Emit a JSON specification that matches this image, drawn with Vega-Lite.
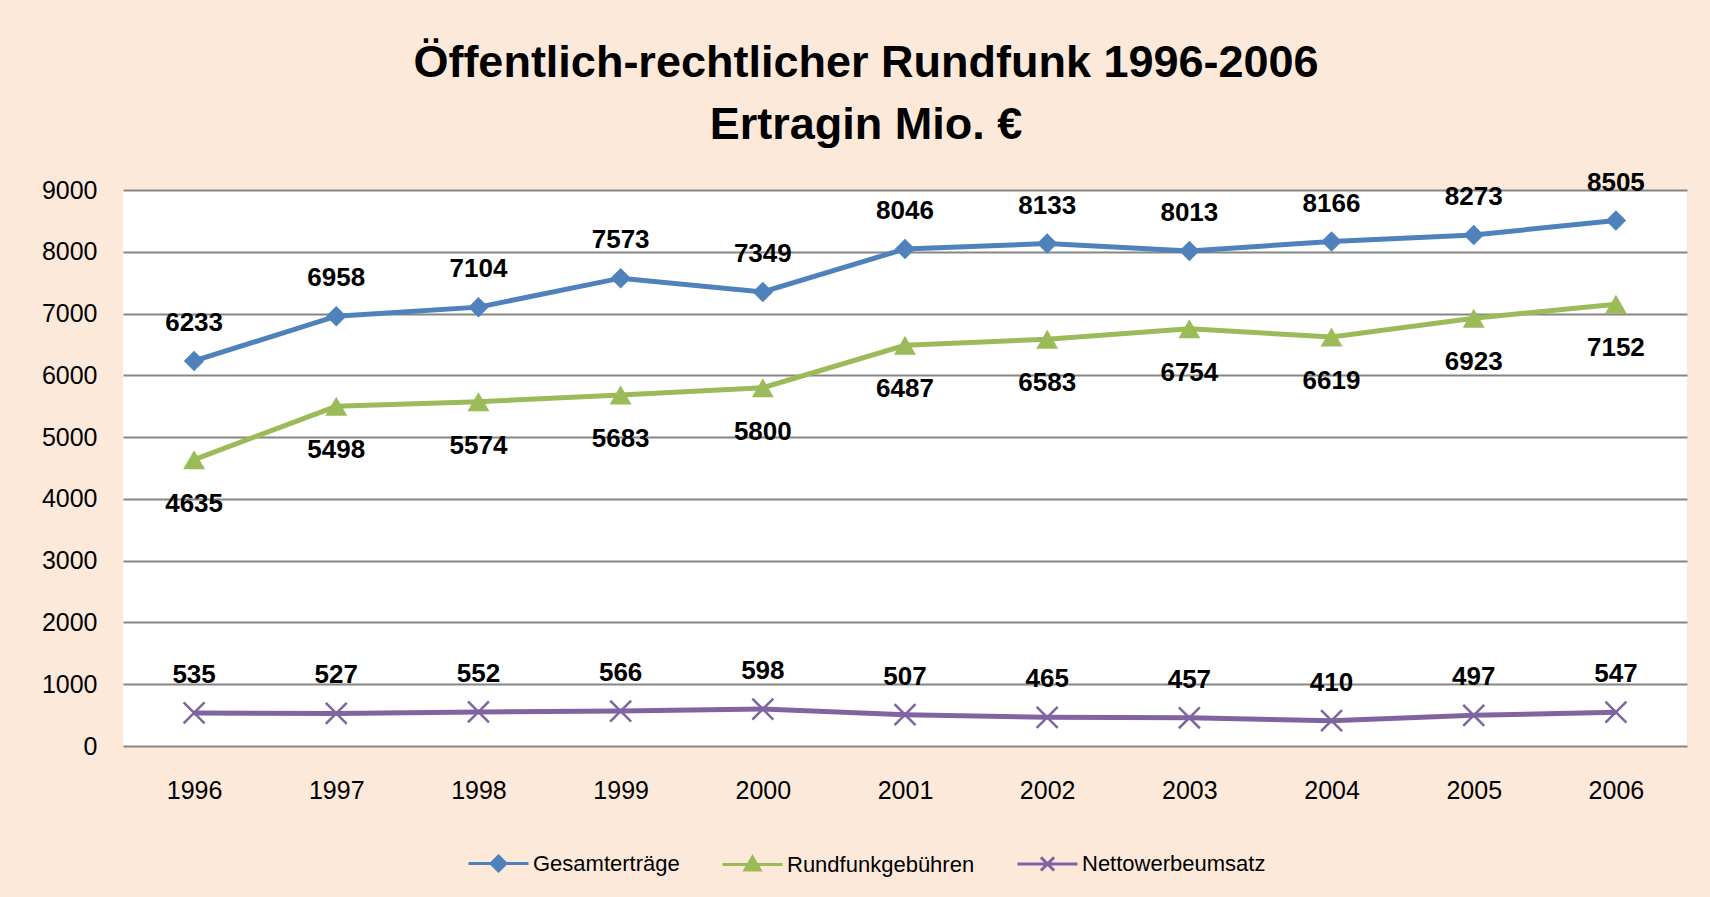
{
  "$schema": "https://vega.github.io/schema/vega-lite/v6.json",
  "width": 1564,
  "height": 556,
  "autosize": {"type": "none"},
  "padding": {"left": 123, "top": 190, "right": 23, "bottom": 151},
  "background": "#FDE9D9",
  "config": {"view": {"fill": "white", "stroke": null}, "font": "Liberation Sans"},
  "title": {
    "text": ["Öffentlich-rechtlicher Rundfunk 1996-2006", "Ertragin Mio. €"],
    "font": "Liberation Sans",
    "fontSize": 45,
    "fontWeight": "bold",
    "lineHeight": 62,
    "anchor": "middle",
    "frame": "group",
    "dx": -39,
    "offset": 22,
    "color": "black"
  },
  "data": {
    "values": [
      {"year": "1996", "series": "Gesamterträge", "value": 6233},
      {"year": "1997", "series": "Gesamterträge", "value": 6958},
      {"year": "1998", "series": "Gesamterträge", "value": 7104},
      {"year": "1999", "series": "Gesamterträge", "value": 7573},
      {"year": "2000", "series": "Gesamterträge", "value": 7349},
      {"year": "2001", "series": "Gesamterträge", "value": 8046},
      {"year": "2002", "series": "Gesamterträge", "value": 8133},
      {"year": "2003", "series": "Gesamterträge", "value": 8013},
      {"year": "2004", "series": "Gesamterträge", "value": 8166},
      {"year": "2005", "series": "Gesamterträge", "value": 8273},
      {"year": "2006", "series": "Gesamterträge", "value": 8505},
      {"year": "1996", "series": "Rundfunkgebühren", "value": 4635},
      {"year": "1997", "series": "Rundfunkgebühren", "value": 5498},
      {"year": "1998", "series": "Rundfunkgebühren", "value": 5574},
      {"year": "1999", "series": "Rundfunkgebühren", "value": 5683},
      {"year": "2000", "series": "Rundfunkgebühren", "value": 5800},
      {"year": "2001", "series": "Rundfunkgebühren", "value": 6487},
      {"year": "2002", "series": "Rundfunkgebühren", "value": 6583},
      {"year": "2003", "series": "Rundfunkgebühren", "value": 6754},
      {"year": "2004", "series": "Rundfunkgebühren", "value": 6619},
      {"year": "2005", "series": "Rundfunkgebühren", "value": 6923},
      {"year": "2006", "series": "Rundfunkgebühren", "value": 7152},
      {"year": "1996", "series": "Nettowerbeumsatz", "value": 535},
      {"year": "1997", "series": "Nettowerbeumsatz", "value": 527},
      {"year": "1998", "series": "Nettowerbeumsatz", "value": 552},
      {"year": "1999", "series": "Nettowerbeumsatz", "value": 566},
      {"year": "2000", "series": "Nettowerbeumsatz", "value": 598},
      {"year": "2001", "series": "Nettowerbeumsatz", "value": 507},
      {"year": "2002", "series": "Nettowerbeumsatz", "value": 465},
      {"year": "2003", "series": "Nettowerbeumsatz", "value": 457},
      {"year": "2004", "series": "Nettowerbeumsatz", "value": 410},
      {"year": "2005", "series": "Nettowerbeumsatz", "value": 497},
      {"year": "2006", "series": "Nettowerbeumsatz", "value": 547}
    ]
  },
  "encoding": {
    "x": {
      "field": "year",
      "type": "ordinal",
      "scale": {"type": "point", "padding": 0.5},
      "axis": {
        "title": null,
        "labelAngle": 0,
        "domain": false,
        "ticks": false,
        "grid": false,
        "labelFontSize": 25,
        "labelPadding": 32,
        "labelColor": "black",
        "labelFont": "Liberation Sans"
      }
    },
    "y": {
      "field": "value",
      "type": "quantitative",
      "scale": {"domain": [0, 9000], "nice": false},
      "axis": {
        "title": null,
        "domain": false,
        "ticks": false,
        "grid": true,
        "gridColor": "#868686",
        "gridWidth": 2,
        "gridOpacity": 1,
        "values": [0, 1000, 2000, 3000, 4000, 5000, 6000, 7000, 8000, 9000],
        "format": "d",
        "labelFontSize": 25,
        "labelPadding": 26,
        "labelColor": "black",
        "labelFont": "Liberation Sans"
      }
    },
    "color": {
      "field": "series",
      "type": "nominal",
      "sort": ["Gesamterträge", "Rundfunkgebühren", "Nettowerbeumsatz"],
      "scale": {
        "domain": ["Gesamterträge", "Rundfunkgebühren", "Nettowerbeumsatz"],
        "range": ["#4F81BD", "#9BBB59", "#8064A2"]
      },
      "legend": {
        "orient": "none",
        "legendX": 344,
        "legendY": 642,
        "direction": "horizontal",
        "title": null,
        "labelFontSize": 22,
        "labelFont": "Liberation Sans",
        "labelColor": "black",
        "labelLimit": 0,
        "symbolSize": 3600,
        "columnPadding": 36,
        "labelOffset": 3,
        "encode": {
          "symbols": {
            "update": {
              "shape": {"signal": "datum.value === 'Gesamterträge' ? 'M-1,0H1M0,-0.25L0.25,0L0,0.25L-0.25,0Z' : datum.value === 'Rundfunkgebühren' ? 'M-1,0H1M0,-0.25L0.25,0.18H-0.25Z' : 'M-1,0H1M-0.22,-0.22L0.22,0.22M-0.22,0.22L0.22,-0.22'"},
              "fill": {"scale": "color", "field": "value"},
              "stroke": {"scale": "color", "field": "value"},
              "strokeWidth": {"value": 3},
              "opacity": {"value": 1}
            }
          }
        }
      }
    }
  },
  "layer": [
    {
      "mark": {"type": "line", "strokeWidth": 5}
    },
    {
      "transform": [{"filter": "datum.series === 'Gesamterträge'"}],
      "mark": {"type": "point", "shape": "diamond", "filled": true, "opacity": 1, "size": 420, "strokeWidth": 0}
    },
    {
      "transform": [{"filter": "datum.series === 'Rundfunkgebühren'"}],
      "mark": {"type": "point", "shape": "triangle-up", "filled": true, "opacity": 1, "size": 480, "strokeWidth": 0}
    },
    {
      "transform": [{"filter": "datum.series === 'Nettowerbeumsatz'"}],
      "mark": {"type": "point", "shape": "M-1,-1L1,1M-1,1L1,-1", "filled": false, "opacity": 1, "size": 440, "strokeWidth": 2.5}
    },
    {
      "transform": [{"filter": "datum.series !== 'Rundfunkgebühren'"}],
      "mark": {"type": "text", "dy": -38, "fontSize": 26, "fontWeight": "bold", "color": "black", "font": "Liberation Sans"},
      "encoding": {"text": {"field": "value", "type": "quantitative", "format": "d"}, "color": {"value": "black"}}
    },
    {
      "transform": [{"filter": "datum.series === 'Rundfunkgebühren'"}],
      "mark": {"type": "text", "dy": 44, "fontSize": 26, "fontWeight": "bold", "color": "black", "font": "Liberation Sans"},
      "encoding": {"text": {"field": "value", "type": "quantitative", "format": "d"}, "color": {"value": "black"}}
    }
  ]
}
